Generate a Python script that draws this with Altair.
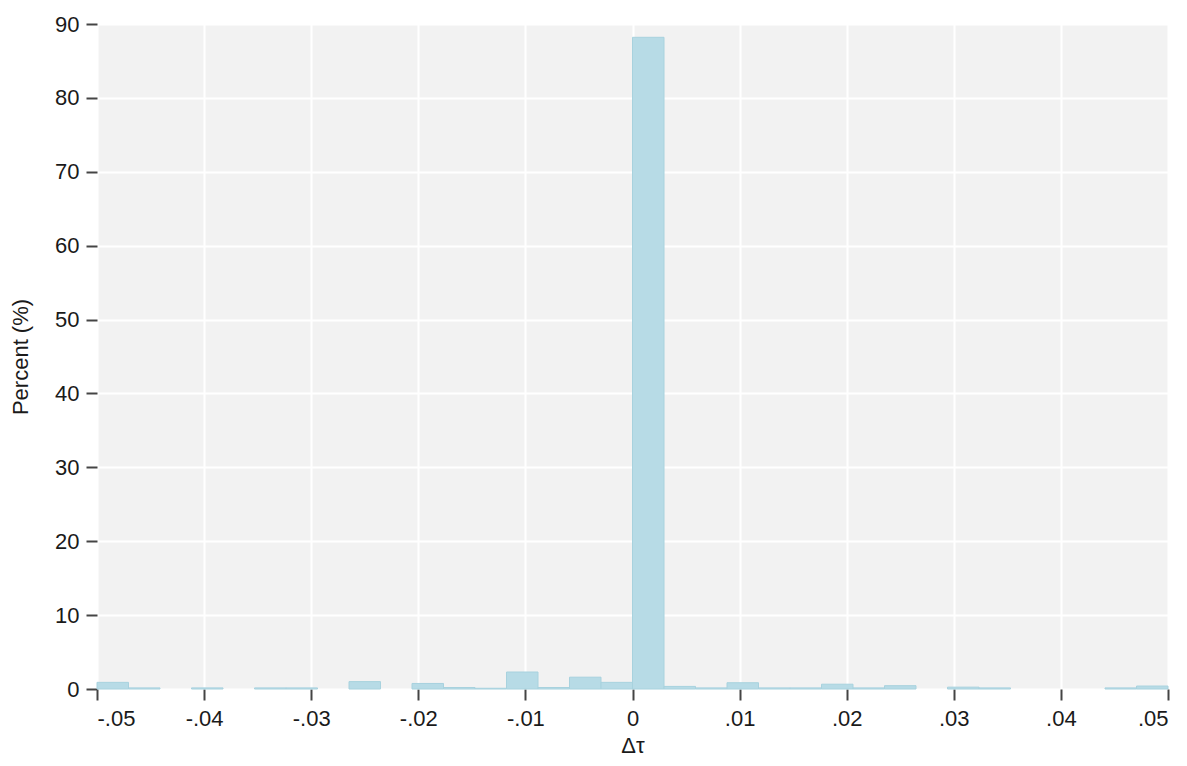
import altair as alt
import pandas as pd

# Histogram of delta tau: 34 equal bins spanning -0.05 .. 0.05
n_bins = 34
x_min = -0.05
x_max = 0.05
bin_w = (x_max - x_min) / n_bins
bin_lo = [x_min + i * bin_w for i in range(n_bins)]
bin_hi = [x_min + (i + 1) * bin_w for i in range(n_bins)]

# Percent in each bin
pct = [0.9, 0.15, 0.0, 0.15, 0.0, 0.15, 0.15, 0.0, 1.0, 0.0,
       0.75, 0.2, 0.1, 2.3, 0.2, 1.6, 0.9, 88.2, 0.35, 0.15,
       0.85, 0.15, 0.15, 0.65, 0.15, 0.45, 0.0, 0.25, 0.15, 0.0,
       0.0, 0.0, 0.15, 0.4]

x_ticks = [-0.05, -0.04, -0.03, -0.02, -0.01, 0.0, 0.01, 0.02, 0.03, 0.04, 0.05]
y_ticks = [0, 10, 20, 30, 40, 50, 60, 70, 80, 90]

df = pd.DataFrame({"lo": bin_lo, "hi": bin_hi, "pct": pct})

FONT = "Liberation Sans"

label_expr = ("datum.value == 0 ? '0' : "
              "replace(replace(format(datum.value, '.2f'), '\u2212', '-'), '0.', '.')")

chart = (
    alt.Chart(df)
    .transform_filter("datum.pct > 0")
    .mark_rect(color="#b7dbe6", stroke="#a8d2de", strokeWidth=1, opacity=1)
    .encode(
        x=alt.X("lo:Q",
                scale=alt.Scale(domain=[x_min, x_max], nice=False, zero=False),
                axis=alt.Axis(values=x_ticks, labelExpr=label_expr, title="Δτ",
                              tickSize=11, labelPadding=8,
                              titleBaseline="alphabetic", titleY=63)),
        x2="hi:Q",
        y=alt.Y("pct:Q",
                scale=alt.Scale(domain=[0, 90], nice=False),
                axis=alt.Axis(values=y_ticks, title="Percent (%)",
                              tickSize=11, labelPadding=7, titlePadding=22)),
        y2=alt.datum(0),
    )
    .properties(
        width=1071,
        height=665,
        autosize=alt.AutoSizeParams(type="none"),
        padding={"left": 89, "top": 16, "right": 10, "bottom": 69},
    )
    .configure_view(fill="#f2f2f2", stroke="transparent")
    .configure_axis(
        domain=False,
        grid=True,
        gridColor="#ffffff",
        gridWidth=2,
        gridOpacity=1,
        tickColor="#444444",
        tickWidth=2,
        labelFont=FONT,
        labelFontSize=22,
        labelColor="#1a1a1a",
        titleFont=FONT,
        titleFontSize=22,
        titleFontWeight="normal",
        titleColor="#1a1a1a",
    )
)

chart.save("out.html", embed_options={"renderer": "svg", "actions": False})
